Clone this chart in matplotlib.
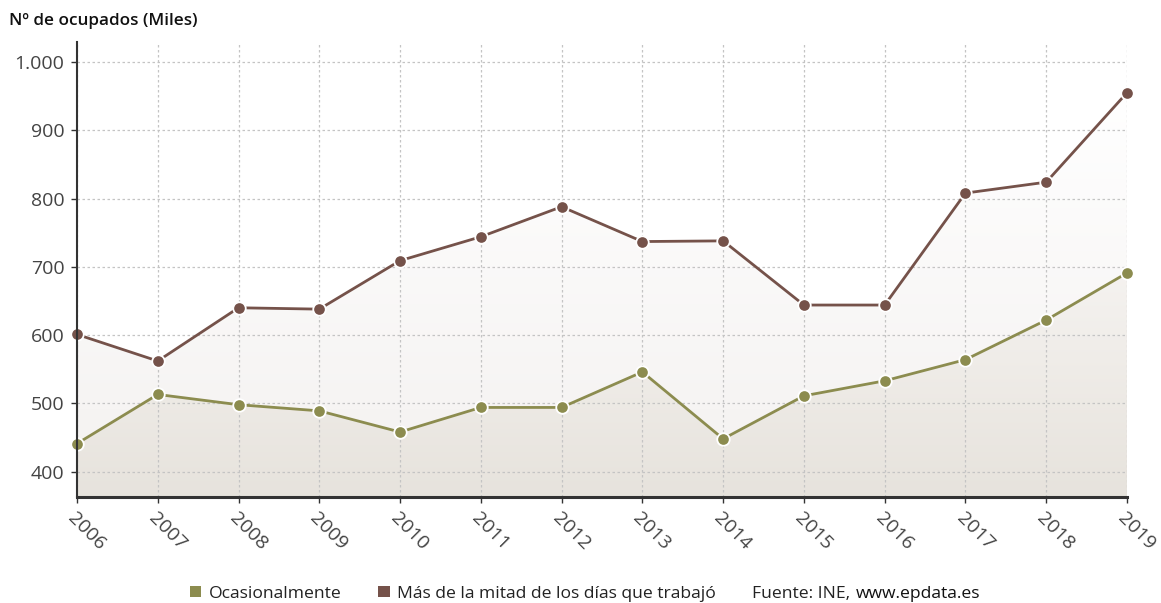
import matplotlib.pyplot as plt
import numpy as np
from matplotlib.patches import Polygon

plt.rcParams['font.family'] = ['Open Sans', 'DejaVu Sans']

years = [2006, 2007, 2008, 2009, 2010, 2011, 2012, 2013, 2014, 2015, 2016, 2017, 2018, 2019]
ocasional = [441, 513, 498, 489, 458, 494, 494, 546, 448, 511, 533, 564, 622, 691]
mas_mitad = [601, 562, 640, 638, 709, 744, 788, 737, 738, 644, 644, 808, 824, 955]
yticks = [400, 500, 600, 700, 800, 900, 1000]
ytick_labels = ['400', '500', '600', '700', '800', '900', '1.000']

green = '#8c8c4f'
brown = '#75524a'
ymin, ymax = 363, 1029

fig = plt.figure(figsize=(11.61, 6.03), dpi=100)
ax = fig.add_axes([0.0663, 0.176, 0.9044, 0.754])


def gradient_fill(values, top_color, bottom_color, z):
    verts = [(years[0], ymin)] + list(zip(years, values)) + [(years[-1], ymin)]
    poly = Polygon(verts, closed=True, facecolor='none', edgecolor='none')
    ax.add_patch(poly)
    top = np.array(top_color)
    bot = np.array(bottom_color)
    t = np.linspace(0, 1, 256)[:, None]
    img = (top * (1 - t) + bot * t).reshape(256, 1, 3)
    im = ax.imshow(img, extent=[years[0], years[-1], ymin, max(values)],
                   origin='upper', aspect='auto', zorder=z)
    im.set_clip_path(poly)


gradient_fill(mas_mitad, (1.0, 1.0, 1.0), (0.955, 0.945, 0.94), 1)
gradient_fill(ocasional, (0.96, 0.95, 0.94), (0.905, 0.89, 0.865), 2)
ax.set_xlim(years[0], years[-1])
ax.set_ylim(ymin, ymax)

ax.grid(True, color='#c4c4c4', linestyle=(0, (2, 2)), linewidth=0.9, zorder=3)
ax.set_axisbelow(False)

ax.plot(years, mas_mitad, color=brown, lw=2, marker='o', ms=9,
        markerfacecolor=brown, markeredgecolor='white', markeredgewidth=1.3, zorder=5, clip_on=False)
ax.plot(years, ocasional, color=green, lw=2, marker='o', ms=9,
        markerfacecolor=green, markeredgecolor='white', markeredgewidth=1.3, zorder=5, clip_on=False)

ax.set_yticks(yticks)
ax.set_yticklabels(ytick_labels)
ax.set_xticks(years)
ax.set_xticklabels([str(y) for y in years], rotation=-45, ha='left', va='top',
                   rotation_mode='anchor')
ax.tick_params(axis='y', colors='#333333', labelsize=14, length=4, width=1, pad=5, labelcolor='#444444')
ax.tick_params(axis='x', colors='#333333', labelsize=14, length=4, width=1, pad=5, labelcolor='#444444')

for s in ['top', 'right']:
    ax.spines[s].set_visible(False)
ax.spines['left'].set_color('#333333')
ax.spines['left'].set_linewidth(1.5)
ax.spines['bottom'].set_color('#333333')
ax.spines['bottom'].set_linewidth(2.2)
ax.spines['left'].set_zorder(6)
ax.spines['bottom'].set_zorder(6)

fig.text(0.008, 0.958, 'Nº de ocupados (Miles)', fontsize=12.3, fontweight='semibold',
         color='#111111', va='baseline')

# leyenda inferior
ly = 0.008
fs = 12.6
fig.patches.append(plt.Rectangle((0.164, ly + 0.002), 0.0095, 0.019, transform=fig.transFigure,
                                 facecolor=green, edgecolor='none'))
fig.text(0.180, ly, 'Ocasionalmente', fontsize=fs, color='#222222')
fig.patches.append(plt.Rectangle((0.326, ly + 0.002), 0.0095, 0.019, transform=fig.transFigure,
                                 facecolor=brown, edgecolor='none'))
fig.text(0.342, ly, 'Más de la mitad de los días que trabajó', fontsize=fs, color='#222222')
src = fig.text(0.648, ly, 'Fuente: INE,', fontsize=fs, color='#222222')
r = fig.canvas.get_renderer()
bb = src.get_window_extent(renderer=r)
fig.text(bb.x1 / fig.bbox.width + 0.005, ly, 'www.epdata.es', fontsize=fs, color='#111111')

fig.savefig('out.png', dpi=100)
